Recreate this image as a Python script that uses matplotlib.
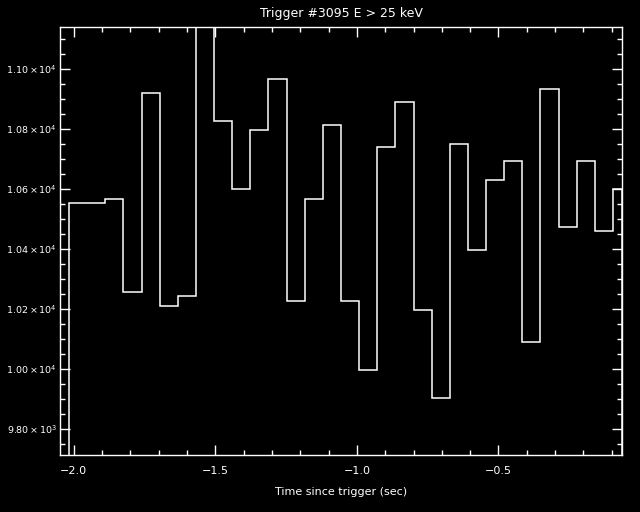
import matplotlib
matplotlib.use("Agg")
import matplotlib.pyplot as plt
from matplotlib.ticker import MultipleLocator, FuncFormatter

# bin edges (sec since trigger) and count rates
bin_edges = [-2.016, -1.952, -1.888, -1.824, -1.760, -1.696, -1.632, -1.568,
             -1.504, -1.440, -1.376, -1.312, -1.248, -1.184, -1.120, -1.056,
             -0.992, -0.928, -0.864, -0.800, -0.736, -0.672, -0.608, -0.544,
             -0.480, -0.416, -0.352, -0.288, -0.224, -0.160, -0.096, -0.064]
rates = [10552, 10552, 10566, 10257, 10920, 10210, 10244, 11250, 10828, 10599,
         10798, 10967, 10227, 10566, 10814, 10227, 9995, 10738, 10891, 10197,
         9902, 10751, 10396, 10628, 10692, 10088, 10934, 10473, 10692, 10459,
         10599]

title = "Trigger #3095 E > 25 keV"
x_label = "Time since trigger (sec)"
y_label = "Counts/s"

fg = "white"
plt.rcParams["font.family"] = "DejaVu Sans"
plt.rcParams["mathtext.fontset"] = "dejavusans"

fig = plt.figure(figsize=(6.4, 5.12), dpi=100, facecolor="black")
ax = fig.add_axes([60 / 640, 57 / 512, 562 / 640, 428 / 512], facecolor="black")

ax.stairs(rates, bin_edges, baseline=0, color=fg, linewidth=1.1)

ax.set_xlim(-2.048, -0.064)
ax.set_ylim(9712, 11140)

ax.xaxis.set_major_locator(MultipleLocator(0.5))
ax.xaxis.set_minor_locator(MultipleLocator(0.1))
ax.yaxis.set_major_locator(MultipleLocator(200))
ax.yaxis.set_minor_locator(MultipleLocator(50))


def sci_fmt(v, pos):
    exp = len(str(int(round(v)))) - 1
    mant = v / 10 ** exp
    return r"$\mathregular{%.2f\times10^{%d}}$" % (mant, exp)


ax.yaxis.set_major_formatter(FuncFormatter(sci_fmt))
ax.xaxis.set_major_formatter(FuncFormatter(lambda v, p: "\u2212%.1f" % abs(v)))

for sp in ax.spines.values():
    sp.set_color(fg)
    sp.set_linewidth(1.0)
ax.tick_params(which="both", direction="in", colors=fg, top=True, right=True,
               width=1.0)
ax.tick_params(which="major", length=7.5)
ax.tick_params(which="minor", length=3.8)
ax.tick_params(axis="x", which="major", labelsize=8, pad=8)
ax.tick_params(axis="y", which="major", labelsize=6.8, pad=2)

ax.set_title(title, color=fg, fontsize=9, pad=7)
ax.set_xlabel(x_label, color=fg, fontsize=8, labelpad=8)
fig.text(-0.005, 1 - 235 / 512, y_label, color=fg, fontsize=8, rotation=90,
         ha="center", va="center")

fig.savefig("out.png", dpi=100, facecolor="black")
